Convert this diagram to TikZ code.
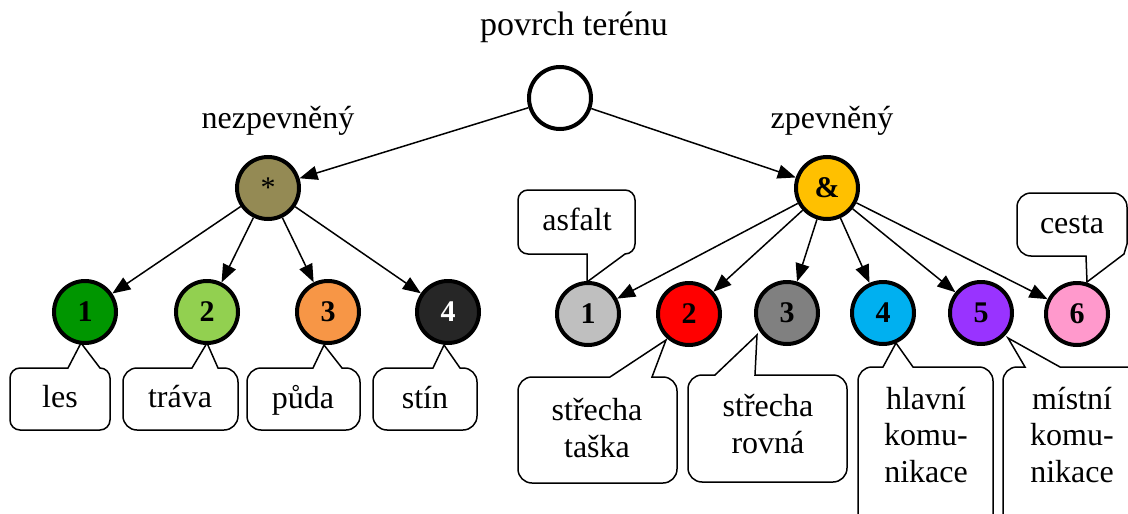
\documentclass[tikz,border=0pt]{standalone}
\usepackage{fontspec}
\setmainfont{Liberation Serif}
\usetikzlibrary{arrows.meta}

\definecolor{cOlive}{RGB}{148,138,84}
\definecolor{cGold}{RGB}{255,192,0}
\definecolor{cDarkGreen}{RGB}{0,150,0}
\definecolor{cLightGreen}{RGB}{146,208,80}
\definecolor{cOrange}{RGB}{247,150,70}
\definecolor{cBlackish}{RGB}{38,38,38}
\definecolor{cLightGray}{RGB}{191,191,191}
\definecolor{cRed}{RGB}{255,0,0}
\definecolor{cGray}{RGB}{128,128,128}
\definecolor{cCyan}{RGB}{0,176,240}
\definecolor{cPurple}{RGB}{153,51,255}
\definecolor{cPink}{RGB}{255,153,204}

\tikzset{
  ball/.style={circle, draw=black, line width=4pt, minimum size=62pt, inner sep=0pt,
    font=\fontsize{30}{34}\selectfont\bfseries},
  link/.style={line width=1.5pt, -{Triangle[length=18pt,width=14pt]}},
  bubble/.style={draw=black, fill=white, line width=1.5pt},
  caption/.style={font=\fontsize{32}{37}\selectfont, anchor=base, inner sep=0pt},
  bubbletext/.style={font=\fontsize{32}{36.5}\selectfont, anchor=base, inner sep=0pt, align=center},
}

\begin{document}
\begin{tikzpicture}[x=1pt, y=-1pt]
\path[use as bounding box, clip] (0,0) rectangle (1128,514);
\fill[white] (0,0) rectangle (1128,514);

% speech bubbles, pointer on the top edge
\draw[bubble] (10,400) [rounded corners=10pt] -- (10,368) [sharp corners] -- (68,368) -- (81,343) -- (100,368) [rounded corners=10pt] -- (110,368) -- (110,430) -- (10,430) -- cycle;
\draw[bubble] (123,400) [rounded corners=14pt] -- (123,368) [sharp corners] -- (192,368) -- (207,343) -- (218,368) [rounded corners=14pt] -- (238,368) -- (238,430) -- (123,430) -- cycle;
\draw[bubble] (247,400) [rounded corners=14pt] -- (247,368) [sharp corners] -- (313,368) -- (324,345) -- (342,368) [rounded corners=14pt] -- (360,368) -- (360,430) -- (247,430) -- cycle;
\draw[bubble] (373,400) [rounded corners=14pt] -- (373,368) [sharp corners] -- (433,368) -- (444,345) -- (460,368) [rounded corners=14pt] -- (477,368) -- (477,430) -- (373,430) -- cycle;
\draw[bubble] (518,430) [rounded corners=14pt] -- (518,377) [sharp corners] -- (610,377) -- (666,340) -- (652,377) [rounded corners=14pt] -- (677,377) -- (677,483) -- (518,483) -- cycle;
\draw[bubble] (688,430) [rounded corners=14pt] -- (688,375) [sharp corners] -- (715,375) -- (757,335) -- (755,375) [rounded corners=14pt] -- (847,375) -- (847,482) -- (688,482) -- cycle;
\draw[bubble] (858,450) [rounded corners=14pt] -- (858,367) [sharp corners] -- (883,367) -- (896,343) -- (913,367) [rounded corners=14pt] -- (993,367) -- (993,560) -- (858,560) -- cycle;
\draw[bubble] (1003,450) [rounded corners=14pt] -- (1003,367) [sharp corners] -- (1025,367) -- (1008,338) -- (1060,367) [rounded corners=14pt] -- (1150,367) -- (1150,560) -- (1003,560) -- cycle;
% speech bubbles, pointer on the bottom edge
\draw[bubble] (518,222) [rounded corners=10pt] -- (518,254) [sharp corners] -- (587,254) -- (587,282) -- (625,254) [rounded corners=10pt] -- (635,254) -- (635,190) -- (518,190) -- cycle;
\draw[bubble] (1017,224) [rounded corners=14pt] -- (1017,256) [sharp corners] -- (1086,256) -- (1087,282) -- (1124,254) -- (1127,244) [rounded corners=14pt] -- (1127,193) -- (1017,193) -- cycle;

% bubble texts (multi-line ones sit on the baseline of their last line)
\node[bubbletext] (tLes)    at (60,407)   {les};
\node[bubbletext] (tTrava)  at (180,407)  {tráva};
\node[bubbletext] (tPuda)   at (303,408)  {půda};
\node[bubbletext] (tStin)   at (425,408)  {stín};
\node[bubbletext] (tTaska)  at (597,457)  {střecha\\taška};
\node[bubbletext] (tRovna)  at (768,453)  {střecha\\rovná};
\node[bubbletext] (tHlavni) at (926,482)  {hlavní\\komu-\\nikace};
\node[bubbletext] (tMistni) at (1072,482) {místní\\komu-\\nikace};
\node[bubbletext] (tAsfalt) at (577,230)  {asfalt};
\node[bubbletext] (tCesta)  at (1072,233) {cesta};

% headings
\node[caption, font=\fontsize{34}{38}\selectfont] (tRoot) at (574,35) {povrch terénu};
\node[caption] (tLeft)  at (278,128) {nezpevněný};
\node[caption] (tRight) at (832,128) {zpevněný};

% tree nodes
\node[ball, fill=white] (root) at (560,98) {};
\node[ball, fill=cOlive, font=\fontsize{30}{34}\selectfont] (soft) at (268,188) {*};
\node[ball, fill=cGold] (hard) at (827,188) {\&};

\node[ball, fill=cDarkGreen]  (l1) at (85,312)  {1};
\node[ball, fill=cLightGreen] (l2) at (207,312) {2};
\node[ball, fill=cOrange]     (l3) at (328,312) {3};
\node[ball, fill=cBlackish, text=white] (l4) at (448,312) {4};

\node[ball, fill=cLightGray] (r1) at (588,314)  {1};
\node[ball, fill=cRed]       (r2) at (689,314)  {2};
\node[ball, fill=cGray]      (r3) at (787,313)  {3};
\node[ball, fill=cCyan]      (r4) at (883,313)  {4};
\node[ball, fill=cPurple]    (r5) at (981,313)  {5};
\node[ball, fill=cPink]      (r6) at (1077,314) {6};

% arrows
\draw[link] (root) -- (soft);
\draw[link] (root) -- (hard);
\foreach \t in {l1,l2,l3,l4} \draw[link] (soft) -- (\t);
\foreach \t in {r1,r2,r3,r4,r5,r6} \draw[link] (hard) -- (\t);
\end{tikzpicture}
\end{document}
